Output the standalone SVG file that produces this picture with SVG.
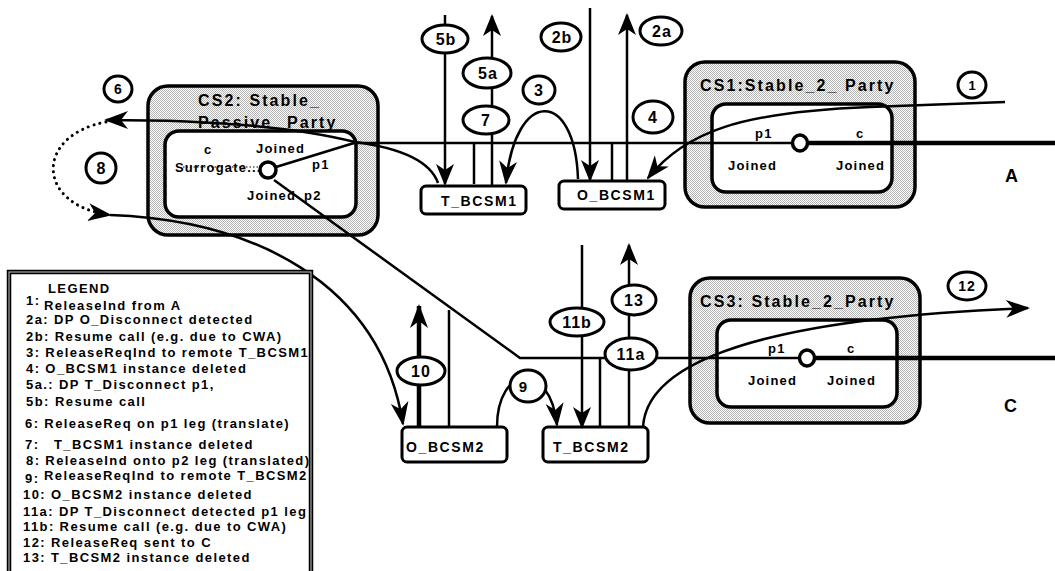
<svg xmlns="http://www.w3.org/2000/svg" width="1055" height="571" viewBox="0 0 1055 571">
<defs>
<pattern id="hatch" width="2" height="2" patternUnits="userSpaceOnUse">
<rect width="2" height="2" fill="#ffffff"/>
<rect x="0" y="0" width="1" height="1" fill="#b4b4b4"/>
<rect x="1" y="1" width="1" height="1" fill="#b4b4b4"/>
</pattern>
<marker id="ah" viewBox="0 0 24 18" refX="22" refY="9" markerWidth="24" markerHeight="18" orient="auto" markerUnits="userSpaceOnUse">
<path d="M0,0 L24,9 L0,18 L7,9 z" fill="#000"/>
</marker>
<marker id="ahs" viewBox="0 0 22 18" refX="20" refY="9" markerWidth="22" markerHeight="18" orient="auto" markerUnits="userSpaceOnUse">
<path d="M0,0 L22,9 L0,18 L6,9 z" fill="#000"/>
</marker>
</defs>
<style>
.t{font-family:"Liberation Sans",Arial,sans-serif;font-weight:bold;fill:#000}
.title{font-size:16px;letter-spacing:2.1px}
.st{font-size:13px;letter-spacing:1.2px}
.bx{font-size:14px;letter-spacing:1.6px}
.num{font-size:16px;letter-spacing:1px}
.lg{font-size:13px;letter-spacing:1.4px}
.outer{fill:url(#hatch);stroke:#000;stroke-width:3.5}
.inner{fill:#fff;stroke:#000;stroke-width:3.5}
.box{fill:#fff;stroke:#000;stroke-width:3}
.ln{fill:none;stroke:#000;stroke-width:2.5}
.thk{fill:none;stroke:#000;stroke-width:4.5}
.oval{fill:#fff;stroke:#000;stroke-width:3}
.node{fill:#fff;stroke:#000;stroke-width:3.5}
</style>
<rect width="1055" height="571" fill="#fff"/>

<!-- CS2 -->
<g id="cs2">
<rect class="outer" x="148" y="86" width="230" height="149" rx="20"/>
<text class="t title" x="198" y="106">CS2: Stable_</text>
<text class="t title" x="198" y="128">Passive<tspan x="287">Party</tspan></text>
<rect class="inner" x="165" y="131" width="191" height="86" rx="14"/>
<text class="t st" x="204" y="154">c</text>
<text class="t st" x="256" y="153">Joined</text>
<text class="t st" x="175" y="172">Surrogate....</text>
<line x1="183" y1="167" x2="258" y2="167" stroke="#000" stroke-width="1.2" stroke-dasharray="1.5,2"/>
<text class="t st" x="312" y="169">p1</text>
<text class="t st" x="247" y="200">Joined<tspan x="304">p2</tspan></text>
</g>

<!-- CS1 -->
<g id="cs1">
<rect class="outer" x="685" y="62" width="230" height="145" rx="20"/>
<text class="t title" x="700" y="91">CS1:Stable_2_ Party</text>
<rect class="inner" x="712" y="104" width="180" height="88" rx="14"/>
<text class="t st" x="755" y="138">p1</text>
<text class="t st" x="856" y="138">c</text>
<text class="t st" x="728" y="170">Joined</text>
<text class="t st" x="836" y="170">Joined</text>
</g>

<!-- CS3 -->
<g id="cs3">
<rect class="outer" x="690" y="278" width="230" height="145" rx="20"/>
<text class="t title" x="700" y="307">CS3: Stable_2_Party</text>
<rect class="inner" x="717" y="320" width="180" height="87" rx="14"/>
<text class="t st" x="768" y="353">p1</text>
<text class="t st" x="847" y="353">c</text>
<text class="t st" x="748" y="385">Joined</text>
<text class="t st" x="827" y="385">Joined</text>
</g>

<!-- BCSM boxes -->
<g id="t_bcsm1">
<rect class="box" x="421" y="186" width="105" height="28" rx="5"/>
<text class="t bx" x="441" y="206">T_BCSM1</text>
</g>
<g id="o_bcsm1">
<rect class="box" x="559" y="181" width="106" height="28" rx="5"/>
<text class="t bx" x="577" y="200">O_BCSM1</text>
</g>
<g id="o_bcsm2">
<rect class="box" x="402" y="427" width="105" height="35" rx="5"/>
<text class="t bx" x="406" y="452">O_BCSM2</text>
</g>
<g id="t_bcsm2">
<rect class="box" x="543" y="427" width="105" height="35" rx="5"/>
<text class="t bx" x="553" y="452">T_BCSM2</text>
</g>

<!-- side labels -->
<g id="label_a"><text class="t" x="1005" y="182" font-size="18">A</text></g>
<g id="label_c"><text class="t" x="1004" y="412" font-size="18">C</text></g>

<!-- connectors -->
<g id="connectors">
<line class="ln" x1="276" y1="167" x2="354" y2="143"/>
<line class="ln" x1="352" y1="143" x2="792" y2="143"/>
<line class="thk" x1="808" y1="143" x2="1055" y2="143"/>
<polyline class="ln" points="274,180 520,358 799,358"/>
<line class="thk" x1="815" y1="358" x2="1055" y2="358"/>
<line class="ln" x1="445" y1="15" x2="445" y2="184" marker-end="url(#ahs)"/>
<line class="ln" x1="474" y1="143" x2="474" y2="184" stroke-width="3.5"/>
<line class="ln" x1="492" y1="186" x2="492" y2="16" marker-end="url(#ahs)"/>
<line class="ln" x1="590" y1="8" x2="590" y2="180" marker-end="url(#ahs)"/>
<line class="ln" x1="612" y1="143" x2="612" y2="181" stroke-width="3.5"/>
<line class="ln" x1="627" y1="181" x2="627" y2="15" marker-end="url(#ahs)"/>
<path class="ln" d="M1005,102 L870,107 C740,112 685,132 648,178" marker-end="url(#ah)"/>
<path class="ln" d="M578,179 C575,88 515,88 506,183" marker-end="url(#ah)"/>
<path class="ln" d="M438,183 C430,160 400,148 355,142 C300,128 220,120 106,120" marker-end="url(#ah)"/>
<path d="M106,122 C35,135 35,205 110,215" fill="none" stroke="#000" stroke-width="3" stroke-dasharray="0.1,6" stroke-linecap="round" marker-end="url(#ah)"/>
<path class="ln" d="M110,215 C250,220 380,280 403,424" marker-end="url(#ah)"/>
<line class="thk" x1="419" y1="427" x2="419" y2="306" marker-end="url(#ah)"/>
<line class="ln" x1="449" y1="427" x2="449" y2="310" stroke-width="3.5"/>
<path class="ln" d="M497,427 C497,365 550,360 557,425" marker-end="url(#ah)"/>
<line class="ln" x1="582" y1="245" x2="582" y2="427" marker-end="url(#ahs)"/>
<line class="ln" x1="600" y1="358" x2="600" y2="427" stroke-width="3.5"/>
<line class="ln" x1="629" y1="427" x2="629" y2="245" marker-end="url(#ahs)"/>
<path class="ln" d="M643,428 C645,375 720,320 1028,308" marker-end="url(#ah)"/>
</g>

<!-- state circles -->
<g id="cs2_point"><ellipse class="node" cx="268" cy="170" rx="8" ry="8"/></g>
<g id="cs1_point"><ellipse class="node" cx="800" cy="143" rx="7.5" ry="8"/></g>
<g id="cs3_point"><ellipse class="node" cx="807" cy="358" rx="7.5" ry="8"/></g>

<!-- number labels -->
<g id="labels">
<g id="n1"><ellipse class="oval" cx="972" cy="85" rx="14" ry="13"/><text class="t" font-size="13" x="972" y="90" text-anchor="middle">1</text></g>
<g id="n2a"><ellipse class="oval" cx="661" cy="31" rx="21" ry="14"/><text class="t num" x="662" y="37" text-anchor="middle">2a</text></g>
<g id="n2b"><ellipse class="oval" cx="561" cy="37" rx="20" ry="14"/><text class="t num" x="562" y="43" text-anchor="middle">2b</text></g>
<g id="n3"><ellipse class="oval" cx="539" cy="90" rx="16" ry="14"/><text class="t num" x="539" y="96" text-anchor="middle">3</text></g>
<g id="n4"><ellipse class="oval" cx="653" cy="117" rx="20" ry="16"/><text class="t num" x="653" y="123" text-anchor="middle">4</text></g>
<g id="n5b"><ellipse class="oval" cx="445" cy="39" rx="23" ry="14"/><text class="t num" x="446" y="45" text-anchor="middle">5b</text></g>
<g id="n5a"><ellipse class="oval" cx="487" cy="73" rx="24" ry="15"/><text class="t num" x="488" y="79" text-anchor="middle">5a</text></g>
<g id="n7"><ellipse class="oval" cx="486" cy="120" rx="23" ry="14"/><text class="t num" x="486" y="126" text-anchor="middle">7</text></g>
<g id="n6"><ellipse class="oval" cx="118" cy="89" rx="14" ry="13"/><text class="t" font-size="14" x="118" y="94" text-anchor="middle">6</text></g>
<g id="n8"><ellipse class="oval" cx="101" cy="168" rx="15" ry="15"/><text class="t" font-size="16" x="101" y="174" text-anchor="middle">8</text></g>
<g id="n10"><ellipse class="oval" cx="421" cy="371" rx="24" ry="14"/><text class="t num" x="421" y="377" text-anchor="middle">10</text></g>
<g id="n9"><ellipse class="oval" cx="528" cy="386" rx="18" ry="16"/><text class="t" font-size="15" x="523" y="392" text-anchor="middle">9</text></g>
<g id="n11b"><ellipse class="oval" cx="577" cy="322" rx="27" ry="14"/><text class="t num" x="577" y="328" text-anchor="middle">11b</text></g>
<g id="n13"><ellipse class="oval" cx="634" cy="300" rx="22" ry="15"/><text class="t num" x="634" y="306" text-anchor="middle">13</text></g>
<g id="n11a"><ellipse class="oval" cx="631" cy="354" rx="26" ry="16"/><text class="t num" x="631" y="360" text-anchor="middle">11a</text></g>
<g id="n12"><ellipse class="oval" cx="967" cy="286" rx="19" ry="14"/><text class="t" font-size="14" x="967" y="291" text-anchor="middle" letter-spacing="1">12</text></g>
</g>

<!-- legend -->
<g id="legend">
<rect x="9" y="272" width="302" height="310" fill="#fff" stroke="#000" stroke-width="4.5"/>
<rect x="9" y="272" width="302" height="310" fill="none" stroke="#c8c8c8" stroke-width="1"/>
<text class="t lg" x="48" y="293">LEGEND</text>
<text class="t lg" x="26" y="305">1:<tspan x="44" y="310">ReleaseInd from A</tspan></text>
<text class="t lg" x="26" y="324">2a: DP O_Disconnect  detected</text>
<text class="t lg" x="26" y="341">2b: Resume call (e.g. due to CWA)</text>
<text class="t lg" x="26" y="357">3: ReleaseReqInd to remote T_BCSM1</text>
<text class="t lg" x="26" y="373">4: O_BCSM1 instance deleted</text>
<text class="t lg" x="26" y="389">5a.: DP T_Disconnect p1,</text>
<text class="t lg" x="26" y="406">5b:<tspan x="55">Resume call</tspan></text>
<text class="t lg" x="25" y="428">6: ReleaseReq on p1 leg (translate)</text>
<text class="t lg" x="25" y="449">7:<tspan x="54">T_BCSM1 instance deleted</tspan></text>
<text class="t lg" x="26" y="465">8: ReleaseInd onto p2 leg (translated)</text>
<text class="t lg" x="25" y="483">9:<tspan x="44" y="480">ReleaseReqInd to remote T_BCSM2</tspan></text>
<text class="t lg" x="23" y="499">10: O_BCSM2 instance deleted</text>
<text class="t lg" x="23" y="516">11a: DP T_Disconnect detected p1 leg</text>
<text class="t lg" x="23" y="531">11b: Resume call (e.g. due to CWA)</text>
<text class="t lg" x="23" y="547">12: ReleaseReq sent to C</text>
<text class="t lg" x="23" y="562">13: T_BCSM2 instance deleted</text>
</g>
</svg>
